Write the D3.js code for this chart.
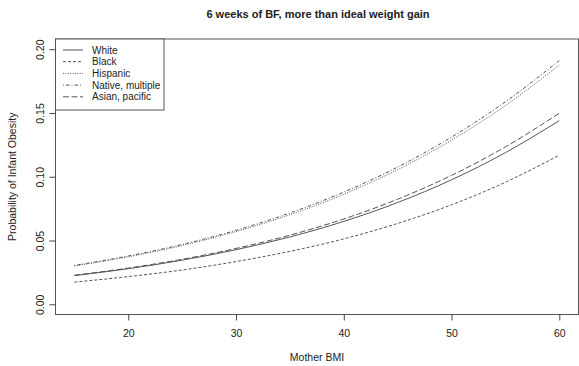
<!DOCTYPE html>
<html><head><meta charset="utf-8">
<script src="https://cdn.jsdelivr.net/npm/d3@7"></script>
<style>body{margin:0;background:#fff}svg{display:block}text{font-family:"Liberation Sans",Arial,sans-serif;fill:#222}</style>
</head><body>
<svg id="c" width="579" height="366"></svg>
<script>
const bmi = [15, 20, 25, 30, 35, 40, 45, 50, 55, 60];
const white    = [0.0225, 0.0279, 0.0346, 0.0428, 0.0528, 0.0650, 0.0798, 0.0976, 0.1189, 0.1440];
const black    = [0.0174, 0.0217, 0.0269, 0.0335, 0.0415, 0.0513, 0.0634, 0.0780, 0.0957, 0.1169];
const hispanic = [0.0300, 0.0372, 0.0461, 0.0570, 0.0702, 0.0863, 0.1056, 0.1287, 0.1558, 0.1876];
const native   = [0.0305, 0.0379, 0.0469, 0.0580, 0.0716, 0.0880, 0.1076, 0.1311, 0.1588, 0.1911];
const asian    = [0.0228, 0.0284, 0.0353, 0.0438, 0.0542, 0.0669, 0.0824, 0.1011, 0.1234, 0.1498];
const seriesNames = ["White", "Black", "Hispanic", "Native, multiple", "Asian, pacific"];
const xTicks = [20, 30, 40, 50, 60];
const yTicks = [0.00, 0.05, 0.10, 0.15, 0.20];

const series = [white, black, hispanic, native, asian];
const dashes = [null, "3,2", "1,1.4", "1,2,3.5,2", "6,2.5"];

const svg = d3.select("#c");
const L = 55.5, R = 578.5, T = 39, B = 314.5;
const x = d3.scaleLinear().domain([13.2, 61.8]).range([55, 578.7]);
const y = d3.scaleLinear().domain([-0.008, 0.208]).range([B, T]);

// title
svg.append("text").attr("x", 318).attr("y", 18).attr("text-anchor", "middle")
  .style("font-weight", "bold").style("font-size", "11px").text("6 weeks of BF, more than ideal weight gain");

// lines
const line = d3.line().x((d, i) => x(bmi[i])).y(d => y(d)).curve(d3.curveMonotoneX);
series.forEach((s, k) => {
  svg.append("path").datum(s).attr("d", line).attr("fill", "none")
    .attr("stroke", "#555").attr("stroke-width", 1)
    .attr("stroke-dasharray", dashes[k]);
});

// box
svg.append("rect").attr("x", L).attr("y", T).attr("width", R - L).attr("height", B - T)
  .attr("fill", "none").attr("stroke", "#555").attr("stroke-width", 1);

// x axis
const xa = svg.append("g").attr("transform", `translate(0,${B})`)
  .call(d3.axisBottom(x).tickValues(xTicks).tickSize(6).tickPadding(9).tickFormat(d3.format("d")));
xa.select(".domain").remove();
xa.selectAll("line").attr("stroke", "#444");
xa.selectAll("text").style("font-size", "10.5px").style("font-family", "Liberation Sans, Arial, sans-serif").attr("fill", "#333");

// y axis
const ya = svg.append("g").attr("transform", `translate(${L},0)`)
  .call(d3.axisLeft(y).tickValues(yTicks).tickSize(6).tickFormat(d3.format(".2f")));
ya.select(".domain").remove();
ya.selectAll("line").attr("stroke", "#444");
ya.selectAll("text").attr("x", 0).attr("y", 0).attr("dy", 0).attr("text-anchor", "middle")
  .attr("transform", "translate(-12,0) rotate(-90)")
  .style("font-size", "10.5px").style("font-family", "Liberation Sans, Arial, sans-serif").attr("fill", "#333");

// axis titles
svg.append("text").attr("x", (L + R) / 2 - 0).attr("y", 361).attr("text-anchor", "middle")
  .style("font-size", "10.5px").attr("fill", "#333").text("Mother BMI");
svg.append("text").attr("transform", `translate(16,${(T + B) / 2}) rotate(-90)`).attr("text-anchor", "middle")
  .style("font-size", "10.5px").attr("fill", "#333").text("Probability of Infant Obesity");

// legend
const lg = svg.append("g");
lg.append("rect").attr("x", L).attr("y", T).attr("width", 164 - L).attr("height", 110 - T)
  .attr("fill", "#fff").attr("stroke", "#555").attr("stroke-width", 1);
seriesNames.forEach((n, k) => {
  const yy = 50 + k * 11.7;
  lg.append("line").attr("x1", 63).attr("x2", 83).attr("y1", yy).attr("y2", yy)
    .attr("stroke", "#555").attr("stroke-width", 1).attr("stroke-dasharray", dashes[k]);
  lg.append("text").attr("x", 92).attr("y", yy).attr("dy", "0.35em")
    .style("font-size", "10px").attr("fill", "#222").text(n);
});
</script>
</body></html>
